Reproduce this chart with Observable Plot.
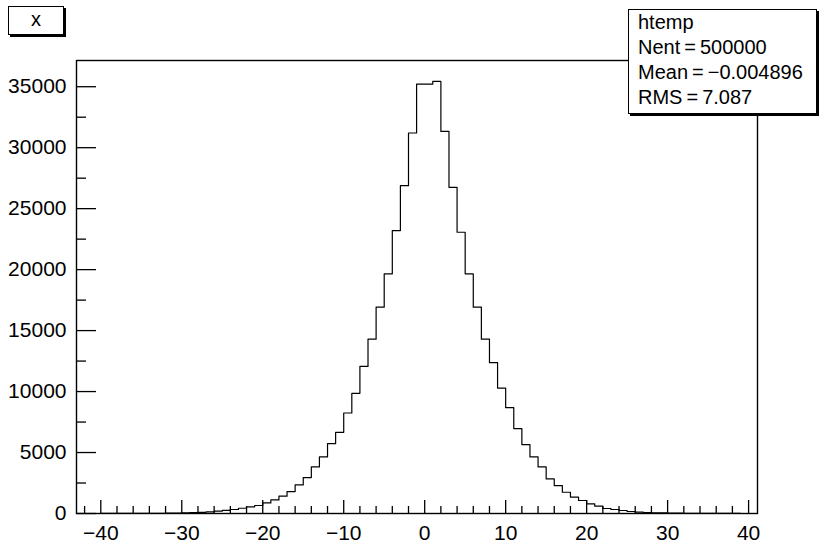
<!DOCTYPE html>
<html>
<head>
<meta charset="utf-8">
<script src="https://cdn.jsdelivr.net/npm/d3@7"></script>
<script src="https://cdn.jsdelivr.net/npm/@observablehq/plot@0.6"></script>
<style>
  html, body { margin: 0; padding: 0; background: #fff; }
  #wrap { position: relative; width: 819px; height: 544px; font-family: "Liberation Sans", Arial, Helvetica, sans-serif; color: #000; }
  .box { position: absolute; background: #fff; border: 1px solid #000; box-shadow: 2px 2px 0 #000; box-sizing: border-box; }
  #title { left: 8px; top: 6px; width: 56px; height: 29px; font-size: 20px; text-align: center; line-height: 25px; }
  #stats { left: 628px; top: 9px; width: 189px; height: 105px; font-size: 20px; line-height: 25px; padding: 0 0 0 9px; white-space: nowrap; }
</style>
</head>
<body>
<div id="wrap"></div>
<script>
// Histogram "htemp": bin width 1, lower edges from -43 to 40
const xMin = -43;
const xMax = 41.1;
const binWidth = 1;
const counts = [
  1, 2, 2, 3, 4, 5, 7, 9, 12, 16,            // -43 .. -34
  22, 30, 40, 55, 75, 100, 140, 190, 250, 330, // -33 .. -24
  430, 546, 655, 868, 1114, 1417, 1802, 2342, 2948, 3817, // -23 .. -14
  4636, 5733, 6658, 8241, 9853, 12064, 14300, 16921, 19656, 23202, // -13 .. -4
  26888, 31204, 35217,                        // -3 .. -1
  35217, 35432, 31337, 26750, 23066, 19656, 16921, 14300, 12367, 10287, // 0 .. 9
  8682, 6962, 5651, 4636, 3817, 2834, 2293, 1744, 1335, 1065, // 10 .. 19
  792, 601, 410, 328, 246, 164, 109, 80, 60, 45, // 20 .. 29
  33, 25, 18, 13, 10, 7, 5, 4, 3, 2, 1        // 30 .. 40
];
const yMaxAxis = 37150;
const xMajor = [-40, -30, -20, -10, 0, 10, 20, 30, 40];
const xMinor = [-42, -38, -36, -34, -32, -28, -26, -24, -22, -18, -16, -14, -12, -8, -6, -4, -2, 2, 4, 6, 8, 12, 14, 16, 18, 22, 24, 26, 28, 32, 34, 36, 38];
const yMajor = [0, 5000, 10000, 15000, 20000, 25000, 30000, 35000];
const yMinor = [2500, 7500, 12500, 17500, 22500, 27500, 32500];
const titleText = "x";
const statsLines = ["htemp", "Nent\u2009=\u2009500000", "Mean\u2009=\u2009\u22120.004896", "RMS\u2009=\u20097.087"];

// step outline points
const steps = counts.map((c, i) => ({x: xMin + i * binWidth, y: c}));
steps.push({x: xMin + counts.length * binWidth, y: counts[counts.length - 1]});

const fmt = d3.format("d");
const plot = Plot.plot({
  width: 819,
  height: 544,
  marginLeft: 76,
  marginRight: 62,
  marginTop: 60,
  marginBottom: 31,
  style: {fontFamily: "'Liberation Sans', Arial, Helvetica, sans-serif", background: "#fff", color: "#000"},
  x: {domain: [xMin, xMax]},
  y: {domain: [0, yMaxAxis]},
  marks: [
    Plot.line(steps, {x: "x", y: "y", curve: "step-after", stroke: "#000", strokeWidth: 1.2}),
    Plot.axisX({ticks: xMajor, tickSize: 0, tickPadding: 12, fontSize: 21, label: null, tickFormat: d3.format("d")}),
    Plot.axisX({ticks: xMajor, tickSize: -13, tickFormat: () => "", label: null, strokeWidth: 1.3}),
    Plot.axisX({ticks: xMinor, tickSize: -7, tickFormat: () => "", label: null, strokeWidth: 1.3}),
    Plot.axisY({ticks: yMajor, tickSize: 0, tickPadding: 10, fontSize: 21, label: null, tickFormat: fmt}),
    Plot.axisY({ticks: yMajor, tickSize: -20, tickFormat: () => "", label: null, strokeWidth: 1.3}),
    Plot.axisY({ticks: yMinor, tickSize: -10, tickFormat: () => "", label: null, strokeWidth: 1.3}),
    Plot.frame({stroke: "#000", strokeWidth: 1.4})
  ]
});
const wrap = document.getElementById("wrap");
wrap.appendChild(plot);

const t = document.createElement("div");
t.id = "title"; t.className = "box"; t.textContent = titleText;
wrap.appendChild(t);
const s = document.createElement("div");
s.id = "stats"; s.className = "box";
statsLines.forEach(l => { const d = document.createElement("div"); d.textContent = l; s.appendChild(d); });
wrap.appendChild(s);
</script>
</body>
</html>
